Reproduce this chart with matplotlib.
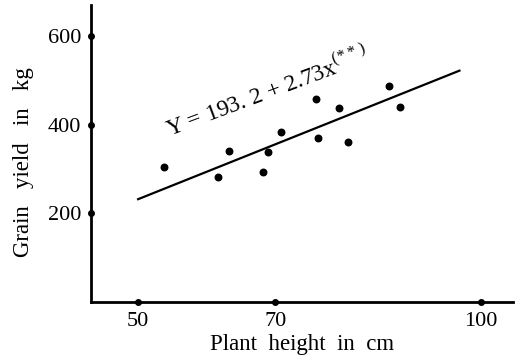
import matplotlib.pyplot as plt
import numpy as np

plt.rcParams['font.family'] = ['Liberation Serif', 'DejaVu Serif']
plt.rcParams['mathtext.fontset'] = 'custom'
plt.rcParams['mathtext.rm'] = 'Liberation Serif'

# plant height (cm) vs grain yield (kg)
height = [53.8, 61.7, 63.2, 68.2, 69.0, 70.8, 75.9, 76.3, 79.3, 80.7, 86.6, 88.2]
grain = [305, 282, 341, 294, 338, 384, 458, 369, 438, 361, 487, 439]

# fitted line as drawn in the figure
fit_x = [50, 96.9]
fit_y = [232, 522]

xticks = [50, 70, 100]
yticks = [200, 400, 600]

fig = plt.figure(figsize=(5.16, 3.6), dpi=100)
ax = fig.add_axes([0.176, 0.161, 0.818, 0.825])

ax.scatter(height, grain, s=22, color='black', zorder=3)
ax.plot(fit_x, fit_y, color='black', lw=1.6)

ax.set_xlim(43.1, 104.7)
ax.set_ylim(0, 670)

# tick marks in the original are little dots sitting on the axes
ax.scatter(xticks, [0] * len(xticks), s=16, color='black', clip_on=False, zorder=4)
ax.scatter([43.1] * len(yticks), yticks, s=16, color='black', clip_on=False, zorder=4)

ax.set_xticks(xticks)
ax.set_yticks(yticks)
ax.tick_params(length=0, labelsize=16, pad=7)
ax.set_xticklabels([str(t) for t in xticks])
ax.set_yticklabels([str(t) for t in yticks])

for side in ['top', 'right']:
    ax.spines[side].set_visible(False)
for side in ['left', 'bottom']:
    ax.spines[side].set_linewidth(2)

ax.set_xlabel('Plant  height  in  cm', fontsize=16.5, labelpad=2)
ax.set_ylabel('Grain   yield   in   kg', fontsize=16.5)
ax.yaxis.set_label_coords(-0.135, 0.47)

ax.text(54.6, 372, r'Y = 193. 2 + 2.73x$^{(**)}$', fontsize=17, rotation=20.5,
        rotation_mode='anchor', ha='left', va='baseline')

fig.savefig('out.png', dpi=100)
